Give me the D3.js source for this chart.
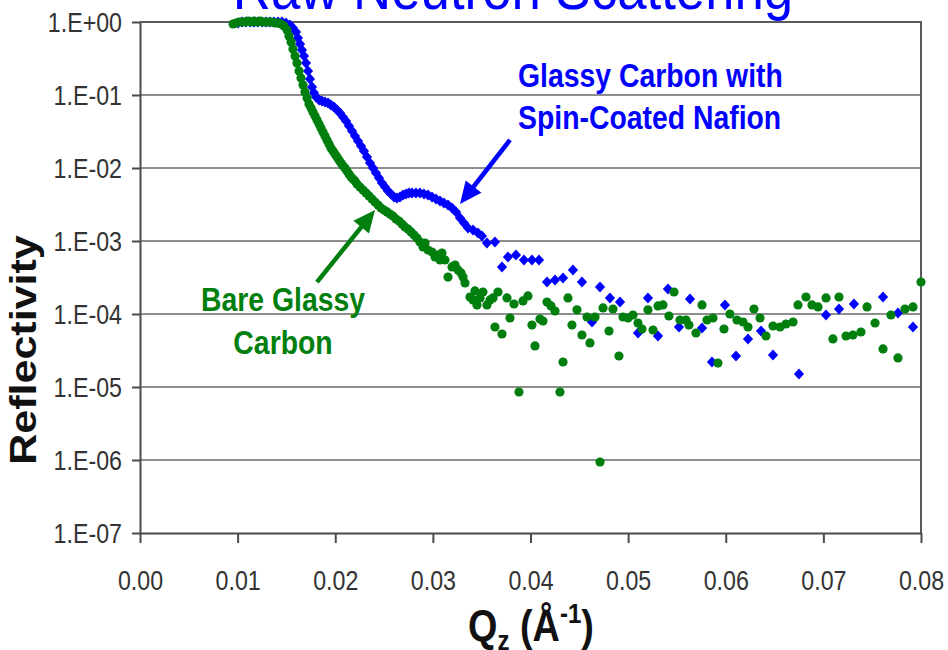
<!DOCTYPE html>
<html>
<head>
<meta charset="utf-8">
<script src="https://cdn.jsdelivr.net/npm/d3@7"></script>
<style>
  html, body { margin: 0; padding: 0; background: #fff; }
  svg { display: block; font-family: "Liberation Sans", Arial, sans-serif; }
</style>
</head>
<body>
<svg id="chart" width="948" height="650"></svg>
<script>
// Axis ticks
const xTicks = [0, 0.01, 0.02, 0.03, 0.04, 0.05, 0.06, 0.07, 0.08];
const yTicks = [1e-7, 1e-6, 1e-5, 1e-4, 1e-3, 1e-2, 1e-1, 1];

// Bare glassy carbon: Qz (1/Å) and reflectivity
const bareQ = [
  0.00953, 0.00983, 0.01014, 0.01045, 0.01076, 0.01106, 0.01137, 0.01168, 0.01198, 0.01229,
  0.01260, 0.01291, 0.01321, 0.01352, 0.01383, 0.01414, 0.01444, 0.01475, 0.01506, 0.01526,
  0.01547, 0.01567, 0.01588, 0.01608, 0.01629, 0.01649, 0.01670, 0.01690, 0.01711, 0.01731,
  0.01752, 0.01772, 0.01793, 0.01813, 0.01834, 0.01854, 0.01874, 0.01895, 0.01915, 0.01936,
  0.01956, 0.01977, 0.01997, 0.02018, 0.02038, 0.02059, 0.02079, 0.02100, 0.02120, 0.02141,
  0.02161, 0.02182, 0.02202, 0.02223, 0.02253, 0.02284, 0.02315, 0.02346, 0.02376, 0.02407,
  0.02438, 0.02469, 0.02499, 0.02530, 0.02561, 0.02591, 0.02622, 0.02653, 0.02684, 0.02714,
  0.02745, 0.02776, 0.02807, 0.02837, 0.02868, 0.02899, 0.02919, 0.02950, 0.02991, 0.03022,
  0.03042, 0.03073, 0.03093, 0.03124, 0.03155, 0.03196, 0.03227, 0.03257, 0.03288, 0.03309,
  0.03329, 0.03380, 0.03411, 0.03431, 0.03452, 0.03483, 0.03513, 0.03554, 0.03585, 0.03616,
  0.03636, 0.03667, 0.03708, 0.03759, 0.03790, 0.03831, 0.03882, 0.03923, 0.03974, 0.04015,
  0.04046, 0.04097, 0.04128, 0.04169, 0.04210, 0.04251, 0.04302, 0.04333, 0.04384, 0.04425,
  0.04476, 0.04527, 0.04579, 0.04609, 0.04661, 0.04712, 0.04743, 0.04804, 0.04845, 0.04906,
  0.04947, 0.04999, 0.05050, 0.05101, 0.05142, 0.05203, 0.05255, 0.05306, 0.05357, 0.05418,
  0.05470, 0.05531, 0.05593, 0.05623, 0.05695, 0.05757, 0.05808, 0.05869, 0.05920, 0.05982,
  0.06043, 0.06115, 0.06177, 0.06228, 0.06289, 0.06351, 0.06412, 0.06484, 0.06556, 0.06617,
  0.06689, 0.06740, 0.06822, 0.06883, 0.06945, 0.07027, 0.07098, 0.07160, 0.07232, 0.07303,
  0.07385, 0.07447, 0.07529, 0.07611, 0.07692, 0.07764, 0.07836, 0.07918, 0.08000
];
const bareR = [
  0.939, 0.969, 1.0, 1.0, 1.0, 1.03, 1.0, 1.03, 1.0, 1.03,
  1.0, 1.0, 1.0, 1.0, 0.969, 0.969, 0.939, 0.881, 0.777, 0.643,
  0.532, 0.427, 0.342, 0.274, 0.213, 0.171, 0.137, 0.110, 0.0910, 0.0753,
  0.0664, 0.0585, 0.0516, 0.0455, 0.0401, 0.0353, 0.0311, 0.0274, 0.0242, 0.0213,
  0.0188, 0.0171, 0.0156, 0.0142, 0.0129, 0.0117, 0.0107, 0.0100, 9.10e-3, 8.28e-3,
  7.53e-3, 7.07e-3, 6.64e-3, 6.04e-3, 5.49e-3, 5.00e-3, 4.55e-3, 4.14e-3, 3.76e-3, 3.42e-3,
  3.11e-3, 2.83e-3, 2.66e-3, 2.50e-3, 2.34e-3, 2.20e-3, 2.00e-3, 1.88e-3, 1.71e-3, 1.56e-3,
  1.46e-3, 1.33e-3, 1.21e-3, 1.10e-3, 9.69e-4, 8.28e-4, 9.39e-4, 7.53e-4, 7.07e-4, 6.04e-4,
  6.43e-4, 5.49e-4, 6.85e-4, 5.49e-4, 3.21e-4, 4.41e-4, 4.69e-4, 4.01e-4, 3.65e-4, 3.21e-4,
  2.66e-4, 1.71e-4, 1.56e-4, 2.07e-4, 1.33e-4, 1.66e-4, 2.00e-4, 1.33e-4, 1.56e-4, 1.66e-4,
  6.64e-5, 2.00e-4, 5.32e-5, 1.66e-4, 8.81e-5, 1.37e-4, 8.54e-6, 1.51e-4, 1.77e-4, 7.07e-5,
  3.65e-5, 8.54e-5, 8.02e-5, 1.46e-4, 1.29e-4, 1.10e-4, 8.54e-6, 2.20e-5, 1.66e-4, 7.07e-5,
  1.14e-4, 5.16e-5, 9.10e-5, 4.01e-5, 9.10e-5, 9.39e-7, 1.21e-4, 5.85e-5, 1.17e-4, 2.66e-5,
  9.10e-5, 8.81e-5, 9.69e-5, 7.53e-5, 6.23e-5, 1.14e-4, 6.04e-5, 1.29e-4, 1.33e-4, 9.39e-5,
  2.00e-4, 8.28e-5, 8.28e-5, 7.07e-5, 5.49e-5, 1.33e-4, 8.28e-5, 8.81e-5, 2.13e-5, 6.23e-5,
  1.00e-4, 8.28e-5, 7.77e-5, 6.64e-5, 1.17e-4, 8.81e-5, 5.00e-5, 6.85e-5, 6.64e-5, 7.30e-5,
  7.77e-5, 1.33e-4, 1.71e-4, 1.33e-4, 1.25e-4, 1.66e-4, 4.55e-5, 1.71e-4, 5.00e-5, 5.16e-5,
  5.67e-5, 1.25e-4, 7.53e-5, 3.32e-5, 9.69e-5, 2.50e-5, 1.17e-4, 1.25e-4, 2.74e-4
];

// Glassy carbon with spin-coated Nafion: Qz (1/Å) and reflectivity
const coatedQ = [
  0.01004, 0.01045, 0.01086, 0.01127, 0.01168, 0.01209, 0.01250, 0.01291, 0.01332, 0.01373,
  0.01414, 0.01455, 0.01495, 0.01536, 0.01567, 0.01598, 0.01618, 0.01639, 0.01659, 0.01680,
  0.01700, 0.01721, 0.01741, 0.01762, 0.01782, 0.01803, 0.01834, 0.01864, 0.01895, 0.01926,
  0.01956, 0.01987, 0.02018, 0.02049, 0.02079, 0.02110, 0.02141, 0.02172, 0.02202, 0.02233,
  0.02264, 0.02294, 0.02325, 0.02356, 0.02387, 0.02417, 0.02448, 0.02479, 0.02510, 0.02540,
  0.02571, 0.02602, 0.02632, 0.02663, 0.02694, 0.02725, 0.02755, 0.02786, 0.02827, 0.02868,
  0.02909, 0.02950, 0.02991, 0.03032, 0.03073, 0.03114, 0.03155, 0.03196, 0.03237, 0.03278,
  0.03319, 0.03360, 0.03411, 0.03462, 0.03503, 0.03554, 0.03636, 0.03708, 0.03769, 0.03851,
  0.03933, 0.04015, 0.04087, 0.04169, 0.04251, 0.04333, 0.04435, 0.04527, 0.04630, 0.04712,
  0.04814, 0.04917, 0.05101, 0.05203, 0.05306, 0.05408, 0.05521, 0.05634, 0.05757, 0.05859,
  0.05992, 0.06105, 0.06228, 0.06361, 0.06484, 0.06750, 0.07027, 0.07160, 0.07313, 0.07611,
  0.07764, 0.07918
];
const coatedR = [
  0.969, 1.0, 1.0, 1.0, 1.0, 1.0, 1.0, 1.0, 1.0, 1.0,
  1.0, 1.0, 0.969, 0.910, 0.828, 0.730, 0.604, 0.500, 0.414, 0.342,
  0.274, 0.213, 0.166, 0.129, 0.107, 0.0939, 0.0854, 0.0828, 0.0802, 0.0777,
  0.0730, 0.0685, 0.0623, 0.0567, 0.0500, 0.0441, 0.0376, 0.0321, 0.0274, 0.0234,
  0.0200, 0.0171, 0.0142, 0.0117, 0.0100, 8.54e-3, 7.30e-3, 6.23e-3, 5.49e-3, 4.84e-3,
  4.41e-3, 4.01e-3, 3.88e-3, 4.01e-3, 4.27e-3, 4.41e-3, 4.55e-3, 4.55e-3, 4.55e-3, 4.55e-3,
  4.41e-3, 4.27e-3, 4.01e-3, 3.76e-3, 3.53e-3, 3.32e-3, 3.11e-3, 2.83e-3, 2.50e-3, 2.07e-3,
  1.77e-3, 1.51e-3, 1.42e-3, 1.29e-3, 1.17e-3, 9.39e-4, 9.69e-4, 4.41e-4, 6.04e-4, 6.43e-4,
  5.49e-4, 5.49e-4, 5.49e-4, 2.74e-4, 2.92e-4, 3.11e-4, 4.01e-4, 2.74e-4, 7.77e-5, 2.34e-4,
  1.66e-4, 1.46e-4, 5.49e-5, 1.66e-4, 5.00e-5, 2.20e-4, 6.64e-5, 1.61e-4, 6.43e-5, 2.20e-5,
  1.33e-4, 2.66e-5, 4.55e-5, 5.85e-5, 2.74e-5, 1.51e-5, 9.69e-5, 1.17e-4, 1.37e-4, 1.71e-4,
  1.03e-4, 6.64e-5
];

const BLUE = "#0000ff";
const GREEN = "#007f0e";
const SX = 0.86; // horizontal glyph compression used for all text

const svg = d3.select("#chart");
const x = d3.scaleLinear().domain([0, 0.08]).range([140, 921]);
const y = d3.scaleLog().domain([1e-7, 1]).range([533, 22]);

const expFormat = v => {
  const e = Math.round(Math.log10(v));
  return "1.E" + (e < 0 ? "-" : "+") + String(Math.abs(e)).padStart(2, "0");
};

// Horizontal gridlines
svg.append("g").selectAll("line")
  .data(yTicks.filter(v => v > 1e-7 && v < 1))
  .join("line")
  .attr("x1", x(0)).attr("x2", x(0.08))
  .attr("y1", d => y(d)).attr("y2", d => y(d))
  .attr("stroke", "#8e8e8e").attr("stroke-width", 2);

// Plot frame (top and right)
svg.append("path")
  .attr("d", `M${x(0)},${y(1)}H${x(0.08)}V${y(1e-7)}`)
  .attr("fill", "none").attr("stroke", "#5a5a5a").attr("stroke-width", 2);

// Y axis
const yAxis = svg.append("g")
  .attr("transform", `translate(${x(0)},0)`)
  .call(d3.axisLeft(y).tickValues(yTicks).tickFormat(expFormat).tickSize(8).tickSizeOuter(0));
yAxis.select(".domain").attr("stroke", "#4a4a4a").attr("stroke-width", 2);
yAxis.selectAll(".tick line").attr("stroke", "#4a4a4a").attr("stroke-width", 2);
yAxis.selectAll(".tick text")
  .attr("x", -18 / SX).attr("dy", "0.35em")
  .attr("transform", `scale(${SX},1)`)
  .attr("font-size", 27).attr("fill", "#333")
  .attr("font-family", "'Liberation Sans', Arial, sans-serif");

// X axis
const xAxis = svg.append("g")
  .attr("transform", `translate(0,${y(1e-7)})`)
  .call(d3.axisBottom(x).tickValues(xTicks).tickFormat(d3.format(".2f")).tickSize(10).tickSizeOuter(0));
xAxis.select(".domain").attr("stroke", "#4a4a4a").attr("stroke-width", 2);
xAxis.selectAll(".tick line").attr("stroke", "#4a4a4a").attr("stroke-width", 2);
xAxis.selectAll(".tick text")
  .attr("y", 57).attr("dy", 0)
  .attr("transform", `scale(${SX},1)`)
  .attr("font-size", 27).attr("fill", "#333")
  .attr("font-family", "'Liberation Sans', Arial, sans-serif");

// Diamond marker for the coated sample
const diamond = {
  draw(ctx, size) {
    const r = Math.sqrt(size / 2);
    ctx.moveTo(0, -r * 1.08);
    ctx.lineTo(r, 0);
    ctx.lineTo(0, r * 1.08);
    ctx.lineTo(-r, 0);
    ctx.closePath();
  }
};

const coated = coatedQ.map((q, i) => ({ q, r: coatedR[i] }));
const bare = bareQ.map((q, i) => ({ q, r: bareR[i] }));

svg.append("g").selectAll("path")
  .data(coated)
  .join("path")
  .attr("transform", d => `translate(${x(d.q)},${y(d.r)})`)
  .attr("d", d3.symbol().type(diamond).size(52))
  .attr("fill", BLUE);

svg.append("g").selectAll("circle")
  .data(bare)
  .join("circle")
  .attr("cx", d => x(d.q)).attr("cy", d => y(d.r))
  .attr("r", 4.6)
  .attr("fill", GREEN);

// Annotation arrows
function arrow(q1, r1, q2, r2, color) {
  const x1 = x(q1), y1 = y(r1), x2 = x(q2), y2 = y(r2);
  const dx = x2 - x1, dy = y2 - y1, len = Math.hypot(dx, dy);
  const ux = dx / len, uy = dy / len;
  const headLen = 22, headW = 10;
  const bx = x2 - ux * headLen, by = y2 - uy * headLen;
  svg.append("line")
    .attr("x1", x1).attr("y1", y1).attr("x2", bx + ux * 2).attr("y2", by + uy * 2)
    .attr("stroke", color).attr("stroke-width", 4.5);
  svg.append("path")
    .attr("d", `M${x2},${y2}L${bx - uy * headW},${by + ux * headW}L${bx + uy * headW},${by - ux * headW}Z`)
    .attr("fill", color);
}
arrow(0.0379, 0.0242, 0.03278, 0.00321, BLUE);
arrow(0.01813, 2.74e-4, 0.02407, 2.66e-3, GREEN);

// Text helper with horizontal compression
function label(px, py, text, opts) {
  return svg.append("text")
    .attr("transform", `translate(${px},${py}) scale(${SX},1)`)
    .attr("text-anchor", opts.anchor || "start")
    .attr("font-size", opts.size)
    .attr("font-weight", opts.weight || "normal")
    .attr("fill", opts.fill)
    .text(text);
}

// Series labels
label(x(0.03872), y(0.129), "Glassy Carbon with", { size: 33, weight: "bold", fill: BLUE });
label(x(0.03872), y(0.0342), "Spin-Coated Nafion", { size: 33, weight: "bold", fill: BLUE });
label(x(0.01465), y(1.0e-4) - 3, "Bare Glassy", { size: 33, weight: "bold", fill: GREEN, anchor: "middle" });
label(x(0.01465), y(2.8e-5), "Carbon", { size: 33, weight: "bold", fill: GREEN, anchor: "middle" });

// Title
svg.append("text")
  .attr("transform", "translate(513,9) scale(0.88,1)")
  .attr("text-anchor", "middle")
  .attr("font-size", 60)
  .attr("fill", BLUE)
  .text("Raw Neutron Scattering");

// Y axis title
svg.append("text")
  .attr("transform", "translate(36,350) rotate(-90) scale(1,0.86)")
  .attr("text-anchor", "middle")
  .attr("font-size", 43)
  .attr("font-weight", "bold")
  .attr("fill", "#111")
  .text("Reflectivity");

// X axis title: Qz (Å^-1)
const xt = svg.append("text")
  .attr("transform", "translate(531,641) scale(0.86,1)")
  .attr("text-anchor", "middle")
  .attr("font-size", 44)
  .attr("font-weight", "bold")
  .attr("fill", "#111");
xt.append("tspan").text("Q");
xt.append("tspan").attr("font-size", 28).attr("dy", 9).text("z");
xt.append("tspan").attr("dy", -9).text(" (Å");
xt.append("tspan").attr("font-size", 28).attr("dy", -18).text("-1");
xt.append("tspan").attr("dy", 18).text(")");
</script>
</body>
</html>
